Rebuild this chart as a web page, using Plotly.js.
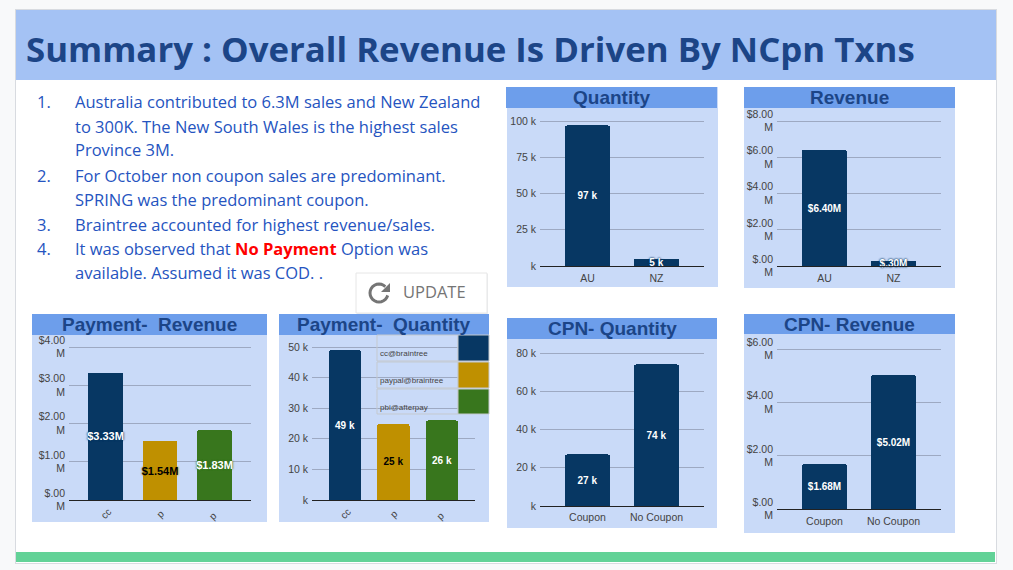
<!DOCTYPE html>
<html><head><meta charset="utf-8">
<script src="https://cdn.plot.ly/plotly-3.0.1.min.js"></script>
<style>html,body{margin:0;padding:0;background:#f8f9fa;overflow:hidden}#c{width:1013px;height:570px}</style>
</head><body><div id="c"></div>
<script>
// ---- data ----
const mainTitle = "Summary : Overall Revenue Is Driven By NCpn Txns";
const regionCats = ["AU", "NZ"];
const regionQty = [97, 5];
const regionQtyLabels = ["97 k", "5 k"];
const regionRev = [6.40, 0.30];
const regionRevLabels = ["$6.40M", "$.30M"];
const payCats = ["cc", "p ", "p  "];
const payRev = [3.33, 1.54, 1.83];
const payRevLabels = ["$3.33M", "$1.54M", "$1.83M"];
const payQty = [49, 25, 26];
const payQtyLabels = ["49 k", "25 k", "26 k"];
const cpnCats = ["Coupon", "No Coupon"];
const cpnQty = [27, 74];
const cpnQtyLabels = ["27 k", "74 k"];
const cpnRev = [1.68, 5.02];
const cpnRevLabels = ["$1.68M", "$5.02M"];
const legendNames = ["cc@braintree", "paypal@braintree", "pbi@afterpay"];
const bullets = [
  ["1.", "Australia contributed to 6.3M sales and New Zealand"],
  ["", "to 300K. The New South Wales is the highest sales"],
  ["", "Province 3M."],
  ["2.", "For October non coupon sales are predominant."],
  ["", "SPRING was the predominant coupon."],
  ["3.", "Braintree accounted for highest revenue/sales."],
  ["4.", "It was observed that <b style='color:#ff0000'><span style='color:#ff0000'>No Payment</span></b> Option was"],
  ["", "available. Assumed it was COD. ."]
];

// ---- styles ----
const W = 1013, H = 570;
const NAVY = "#073763", GOLD = "#bf9000", GREEN = "#38761d";
const PANEL = "#c9daf8", HEAD = "#6d9eeb", TITLE = "#1c4587", BODY = "#2554c0";
const ARIAL = "Liberation Sans, Arial, sans-serif";
const UI = "Open Sans, sans-serif";
const px = x => x / W, py = y => 1 - y / H;

const shapes = [], annotations = [], data = [];
const layout = {width: W, height: H, margin: {l:0,r:0,t:0,b:0}, paper_bgcolor: "#f8f9fa",
  plot_bgcolor: "rgba(0,0,0,0)", showlegend: false, barcornerradius: 2, bargap: 0,
  hovermode: false, shapes, annotations};

function rect(x0, y0, x1, y1, fill, line, layer) {
  shapes.push({type:"rect", xref:"paper", yref:"paper", x0:px(x0), x1:px(x1), y0:py(y0), y1:py(y1),
    fillcolor:fill, line: line ? {color:line, width:1} : {width:0}, layer: layer || "below"});
}
function label(x, y, text, size, color, family, anchor) {
  annotations.push({xref:"paper", yref:"paper", x:px(x), y:py(y), text, showarrow:false,
    xanchor:anchor||"left", yanchor:"middle", font:{size, color, family}, align:anchor||"left",
    borderpad:0, borderwidth:0});
}
function icon(cx, cy, path, fill, lineW) {
  shapes.push({type:"path", xref:"paper", yref:"paper", xsizemode:"pixel", ysizemode:"pixel",
    xanchor:px(cx), yanchor:py(cy), path, fillcolor:fill,
    line: lineW ? {color:"#757575", width:lineW} : {width:0}, layer:"above"});
}

// slide
rect(15, 9, 997, 564, "#d8dbe0");
rect(16, 10, 996, 563, "#ffffff");
rect(16, 10, 996, 80, "#a4c2f4");
rect(16, 552, 995, 562, "#62d297");
label(26, 48, "<b>" + mainTitle + "</b>", 34.8, TITLE, UI);

bullets.forEach((b, i) => {
  const ys = [101, 126, 150, 175, 199, 224, 248, 273];
  if (b[0]) label(51, ys[i], b[0], 16.5, BODY, UI, "right");
  label(75, ys[i], b[1], 16.5, BODY, UI);
});

// update button
rect(357, 274, 488, 314, "#eceef0", null, "above");
rect(356, 273, 487, 313, "#ffffff", "#e6e6e6", "above");
// refresh icon: open ring plus arrow head
const ringPts = [];
for (let a = -15; a >= -315; a -= 15) {
  const r = a * Math.PI / 180;
  ringPts.push((9 * Math.cos(r)).toFixed(2) + " " + (9 * Math.sin(r)).toFixed(2));
}
icon(379, 293, "M " + ringPts.join(" L "), "rgba(0,0,0,0)", 3);
icon(379, 293, "M 11 10 L 11 1 L 2 1 Z", "#757575", 0);
label(403, 291.5, "UPDATE", 16.5, "#757575", UI);

let axisNo = 0;
const HEADROOM = 1.02;
function chart(o) {
  axisNo++;
  const xa = "x" + axisNo, ya = "y" + axisNo;
  const xk = "xaxis" + axisNo, yk = "yaxis" + axisNo;
  rect(o.panel[0], o.head[1], o.panel[2], o.panel[3], PANEL);
  rect(o.head[0], o.head[1], o.head[2], o.head[3], HEAD);
  label((o.head[0] + o.head[2]) / 2, (o.head[1] + o.head[3]) / 2, "<b>" + o.title + "</b>", 19, TITLE, ARIAL, "center");
  const [l, t, r, b] = o.plot;
  const top = b - (b - t) * HEADROOM;   // room above the top gridline so it is drawn
  layout[xk] = {domain:[px(l), px(r)], anchor:ya, type:"category", range:o.xr, categoryorder:"array", categoryarray:o.cats,
    showgrid:false, zeroline:false, showline:true, linecolor:"#222222", linewidth:1, ticks:"",
    ticklabelstandoff:o.xoff === undefined ? 2 : o.xoff, ticklabelshift:o.xshift || 0,
    tickfont:{family:ARIAL, size:o.xsize || 10.5, color:"#444444"}, tickangle:o.angle === undefined ? 0 : o.angle, fixedrange:true, automargin:false};
  layout[yk] = {domain:[py(b), py(top)], anchor:xa, range:[0, o.ymax * HEADROOM], tickmode:"array", tickvals:o.tv, ticktext:o.tt,
    showgrid:true, gridcolor:"#9da9c2", gridwidth:1, zeroline:false, showline:false, ticks:"", ticklabelstandoff:3,
    tickfont:{family:ARIAL, size:10.5, color:"#444444"}, fixedrange:true, automargin:false};
  data.push({type:"bar", x:o.cats, y:o.vals, xaxis:xa, yaxis:ya, width:o.bw, text:o.labels, textposition:"inside",
    insidetextanchor:"middle", constraintext:"none", textangle:0, cliponaxis:false,
    marker:{color:o.colors, line:{width:0}},
    textfont:{family:ARIAL, size:o.tsize || 10, color:o.textColors, weight:"bold", shadow:o.shadow || "none"},
    hoverinfo:"skip"});
}

const navy2 = [NAVY, NAVY], white2 = ["#fff", "#fff"], tri = [NAVY, GOLD, GREEN];
const revTicks8 = ["$.00<br>M", "$2.00<br>M", "$4.00<br>M", "$6.00<br>M", "$8.00<br>M"];
const qtyTicks100 = ["k", "25 k", "50 k", "75 k", "100 k"];
const revTicks4 = ["$.00<br>M", "$1.00<br>M", "$2.00<br>M", "$3.00<br>M", "$4.00<br>M"];
const qtyTicks50 = ["k", "10 k", "20 k", "30 k", "40 k", "50 k"];
const qtyTicks80 = ["k", "20 k", "40 k", "60 k", "80 k"];
const revTicks6 = ["$.00<br>M", "$2.00<br>M", "$4.00<br>M", "$6.00<br>M"];
const glow = c => "0 0 2px " + c + ", 0 0 2px " + c;

chart({title:"Quantity", panel:[507,108,718,287], head:[506,87,717,108], plot:[540,121,704,266], cats:regionCats,
  vals:regionQty, labels:regionQtyLabels, colors:navy2, textColors:white2, ymax:100, tv:[0,25,50,75,100], tt:qtyTicks100,
  xr:[-0.688,1.688], bw:0.652, shadow:["none", glow(NAVY)]});
chart({title:"Revenue", panel:[744,108,955,288], head:[744,87,955,108], plot:[777,121,941,266], cats:regionCats,
  vals:regionRev, labels:regionRevLabels, colors:navy2, textColors:white2, ymax:8, tv:[0,2,4,6,8], tt:revTicks8,
  xr:[-0.688,1.688], bw:0.652, shadow:["none", glow(NAVY)]});
chart({title:"Payment-\u00a0 Revenue", panel:[32,335,267,522], head:[32,314,267,335], plot:[69,347,251,500], cats:payCats,
  vals:payRev, labels:payRevLabels, colors:tri, textColors:["#fff","#000","#fff"], ymax:4, tv:[0,1,2,3,4], tt:revTicks4,
  xr:[-0.67,2.67], bw:0.642, angle:-45, xoff:1, xshift:3, xsize:10, tsize:11, shadow:[glow(NAVY), glow(GOLD), glow(GREEN)]});
chart({title:"Payment-\u00a0 Quantity", panel:[279,335,489,522], head:[279,314,489,335], plot:[312,347,475,500], cats:payCats,
  vals:payQty, labels:payQtyLabels, colors:tri, textColors:["#fff","#000","#fff"], ymax:50, tv:[0,10,20,30,40,50], tt:qtyTicks50,
  xr:[-0.68,2.68], bw:0.66, angle:-45, xoff:1, xshift:3, xsize:10});
chart({title:"CPN- Quantity", panel:[507,339,717,528], head:[507,318,717,339], plot:[540,353,704,506], cats:cpnCats,
  vals:cpnQty, labels:cpnQtyLabels, colors:navy2, textColors:white2, ymax:80, tv:[0,20,40,60,80], tt:qtyTicks80,
  xr:[-0.688,1.688], bw:0.652, xoff:1});
chart({title:"CPN- Revenue", panel:[744,334,955,533], head:[744,314,955,334], plot:[777,349,941,509], cats:cpnCats,
  vals:cpnRev, labels:cpnRevLabels, colors:navy2, textColors:white2, ymax:6, tv:[0,2,4,6], tt:revTicks6,
  xr:[-0.688,1.688], bw:0.652, xoff:2});

// legend block over the Payment-Quantity chart
[[335,361,353],[362,388,380],[389,414,407]].forEach((row, i) => {
  rect(377, row[0], 458, row[1], "rgba(0,0,0,0)", "#c4c9cf", "above");
  rect(458, row[0], 489, row[1], tri[i], "#c4c9cf", "above");
  label(380, row[2], legendNames[i], 8, "#444444", ARIAL);
});

Plotly.newPlot("c", data, layout, {displayModeBar:false, staticPlot:true, responsive:false});
</script></body></html>
